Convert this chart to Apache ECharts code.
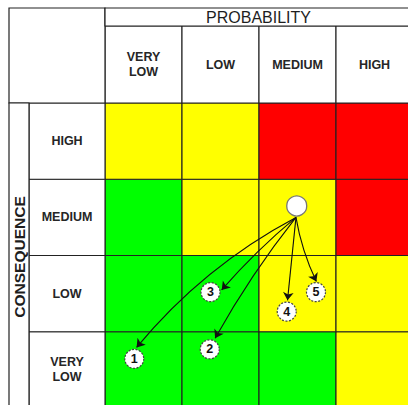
<!DOCTYPE html>
<html><head><meta charset="utf-8">
<script src="https://cdn.jsdelivr.net/npm/echarts@6/dist/echarts.min.js"></script>
<style>html,body{margin:0;padding:0;background:#fff}#c{width:408px;height:405px}</style>
</head><body><div id="c"></div>
<script>
// ---- data ----
const probabilityTitle = 'PROBABILITY';
const consequenceTitle = 'CONSEQUENCE';
const probabilityLabels = ['VERY\nLOW', 'LOW', 'MEDIUM', 'HIGH'];
const consequenceLabels = ['VERY\nLOW', 'LOW', 'MEDIUM', 'HIGH']; // bottom -> top
// risk level per cell: rows = consequence (bottom -> top), cols = probability
const riskLevels = [
  [0, 0, 0, 1],
  [0, 0, 1, 1],
  [0, 1, 1, 2],
  [1, 1, 2, 2]
];
const currentRisk = [2.49, 2.65];
const arrowStart = [2.48, 2.50];
const mitigationIds = ['1', '2', '3', '4', '5'];
const mitigationX = [0.38, 1.36, 1.37, 2.36, 2.74];
const mitigationY = [0.645, 0.77, 1.52, 1.265, 1.52];
const arrowEndX = [0.41, 1.43, 1.515, 2.37, 2.745];
const arrowEndY = [0.795, 0.916, 1.549, 1.412, 1.658];

// ---- styles ----
const levelColors = ['#00FF00', '#FFFF00', '#FF0000'];
const arrowCurveness = [-0.1, -0.04, -0.04, 0, -0.07];
const LINE = '#222';
const FONT_FAMILY = '"Liberation Sans", Arial, sans-serif';
const labelFont = 'bold 12.5px ' + FONT_FAMILY;
const textColor = '#262626';

const cellData = [];
riskLevels.forEach((row, ci) => row.forEach((lvl, pi) => cellData.push([pi, ci, lvl])));

const chart = echarts.init(document.getElementById('c'), null, { renderer: 'svg' });

const option = {
  animation: false,
  backgroundColor: '#fff',
  grid: { left: 105, top: 103, right: 0, bottom: 0, containLabel: false },
  xAxis: { type: 'value', min: 0, max: 3.935, show: false },
  yAxis: { type: 'value', min: 0.04, max: 4, show: false },
  graphic: [
    { type: 'rect', shape: { x: 9, y: 8, width: 96, height: 95 }, style: { fill: '#fff', stroke: LINE, lineWidth: 1.2 }, z: 10 },
    { type: 'rect', shape: { x: 105, y: 8, width: 320, height: 18 }, style: { fill: '#fff', stroke: LINE, lineWidth: 1.2 }, z: 10 },
    { type: 'text', x: 258.5, y: 17.5, style: { text: probabilityTitle, font: '16px ' + FONT_FAMILY, fill: '#1e1e1e', align: 'center', verticalAlign: 'middle' }, z: 11 },
    { type: 'rect', shape: { x: 9, y: 103, width: 20, height: 320 }, style: { fill: '#fff', stroke: LINE, lineWidth: 1.2 }, z: 10 },
    { type: 'text', x: 19.5, y: 257, rotation: Math.PI / 2, style: { text: consequenceTitle, font: 'bold 15.5px ' + FONT_FAMILY, fill: '#1e1e1e', align: 'center', verticalAlign: 'middle' }, z: 11 }
  ],
  series: [
    {
      type: 'custom',
      name: 'cells',
      data: cellData,
      clip: true,
      z: 1,
      silent: true,
      renderItem: function (params, api) {
        const x = api.value(0), y = api.value(1), lvl = api.value(2);
        const p0 = api.coord([x, y + 1]);
        const p1 = api.coord([x + 1, y]);
        return {
          type: 'rect',
          shape: { x: p0[0], y: p0[1], width: p1[0] - p0[0], height: p1[1] - p0[1] },
          style: { fill: levelColors[lvl], stroke: LINE, lineWidth: 1.1 }
        };
      }
    },
    {
      type: 'custom',
      name: 'probability headers',
      data: probabilityLabels.map((l, i) => [i, 4]),
      z: 2,
      silent: true,
      renderItem: function (params, api) {
        const i = api.value(0);
        const x0 = api.coord([i, 4])[0];
        const x1 = api.coord([i + 1, 4])[0];
        const yTop = 26, yBot = api.coord([i, 4])[1];
        return {
          type: 'group',
          children: [
            { type: 'rect', shape: { x: x0, y: yTop, width: x1 - x0, height: yBot - yTop }, style: { fill: '#fff', stroke: LINE, lineWidth: 1.1 } },
            { type: 'text', style: { text: probabilityLabels[params.dataIndex], x: (x0 + x1) / 2, y: (yTop + yBot) / 2, font: labelFont, lineHeight: 15, fill: textColor, align: 'center', verticalAlign: 'middle' } }
          ]
        };
      }
    },
    {
      type: 'custom',
      name: 'consequence headers',
      data: consequenceLabels.map((l, i) => [0, i]),
      z: 2,
      silent: true,
      renderItem: function (params, api) {
        const i = api.value(1);
        const yTop = api.coord([0, i + 1])[1];
        const yBot = api.coord([0, i])[1];
        const x0 = 29, x1 = api.coord([0, i])[0];
        return {
          type: 'group',
          children: [
            { type: 'rect', shape: { x: x0, y: yTop, width: x1 - x0, height: yBot - yTop }, style: { fill: '#fff', stroke: LINE, lineWidth: 1.1 } },
            { type: 'text', style: { text: consequenceLabels[params.dataIndex], x: (x0 + x1) / 2, y: (yTop + yBot) / 2, font: labelFont, lineHeight: 15, fill: textColor, align: 'center', verticalAlign: 'middle' } }
          ]
        };
      }
    },
    {
      type: 'lines',
      coordinateSystem: 'cartesian2d',
      symbol: ['none', 'arrow'],
      symbolSize: 8,
      z: 4,
      silent: true,
      lineStyle: { color: '#111', width: 1.1, opacity: 1 },
      data: mitigationIds.map((id, i) => ({
        coords: [arrowStart, [arrowEndX[i], arrowEndY[i]]],
        lineStyle: { curveness: arrowCurveness[i] }
      }))
    },
    {
      type: 'scatter',
      name: 'current',
      z: 5,
      silent: true,
      symbol: 'circle',
      symbolSize: 20,
      itemStyle: { color: '#fff', borderColor: '#777', borderWidth: 1.3, opacity: 1 },
      data: [currentRisk]
    },
    {
      type: 'scatter',
      name: 'mitigated',
      z: 5,
      silent: true,
      symbol: 'circle',
      symbolSize: 19,
      itemStyle: { color: '#fff', borderColor: '#444', borderWidth: 1.2, borderType: [2, 1.5], opacity: 1 },
      label: { show: true, position: 'inside', formatter: '{b}', color: '#111', fontWeight: 'bold', fontSize: 12.5, fontFamily: FONT_FAMILY },
      data: mitigationIds.map((id, i) => ({ name: id, value: [mitigationX[i], mitigationY[i]] }))
    }
  ]
};
chart.setOption(option);
</script>
</body></html>
